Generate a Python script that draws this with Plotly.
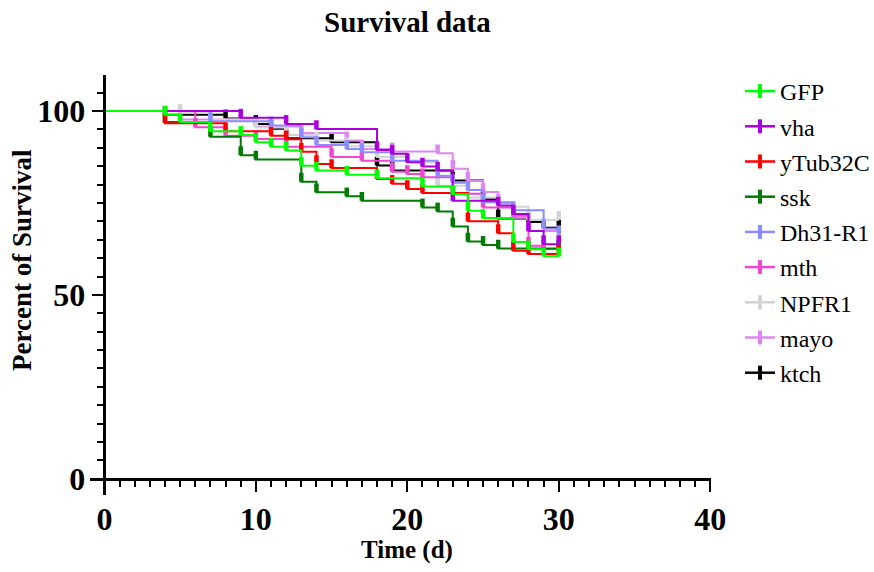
import plotly.graph_objects as go

# ---- data ----
names = ["GFP", "vha", "yTub32C", "ssk", "Dh31-R1", "mth", "NPFR1", "mayo", "ktch"]
colors = ["#00FF00", "#AA00DD", "#FF0000", "#007A00", "#8C8CFF", "#F046D2", "#D3D3D3", "#DD88F0", "#000000"]

GFP_t = [0, 4, 5, 7, 9, 10, 11, 12, 13, 14, 16, 18, 21, 23, 24, 25, 27, 28, 29, 30]
GFP_s = [100, 99, 97, 94.5, 93.5, 91.5, 90.3, 89.3, 85.1, 83.8, 82.7, 81.7, 79.5, 77.4, 72.9, 70.9, 64.4, 62.4, 60.5, 60.5]

vha_t = [0, 9, 12, 14, 18, 19, 20, 21, 22, 23, 26, 27, 28, 29, 30]
vha_s = [100, 98.2, 96.5, 95.1, 89.4, 88.4, 86.1, 84.9, 83.8, 75.6, 74.3, 72, 67.4, 63.8, 63.8]

yTub_t = [0, 4, 8, 11, 12, 13, 14, 15, 18, 19, 20, 21, 24, 26, 27, 28, 30]
yTub_s = [100, 96.7, 94.5, 93.3, 92.3, 88.9, 85.6, 84.5, 81.5, 80.2, 78.8, 77.7, 70, 66.8, 62, 61.1, 61.1]

ssk_t = [0, 4, 7, 9, 10, 13, 14, 16, 17, 21, 22, 23, 24, 25, 26, 30]
ssk_s = [100, 97, 93, 88, 86.8, 80.8, 77.9, 76.8, 75.6, 73.8, 72.7, 68.6, 64.5, 63.6, 62.6, 62.6]

Dh31_t = [0, 7, 11, 13, 14, 16, 17, 19, 22, 23, 24, 25, 27, 29, 30]
Dh31_s = [100, 97.2, 96.1, 92.9, 90.8, 89.7, 88.8, 86.5, 82.4, 80.5, 78.5, 75.2, 73, 68, 66.5]

mth_t = [0, 6, 8, 10, 12, 15, 17, 19, 20, 21, 23, 25, 27, 28, 29, 30]
mth_s = [100, 95.6, 93.3, 92.4, 90.3, 87.5, 86.5, 83.5, 82.9, 82, 77.5, 73.8, 71.5, 63.4, 62.5, 62.5]

NPFR1_t = [0, 5, 7, 10, 12, 14, 16, 18, 20, 22, 24, 26, 28, 30]
NPFR1_s = [100, 99.5, 97.7, 95.5, 93.5, 92, 90.4, 87.5, 86, 79.7, 76.5, 74, 70.4, 70.4]

mayo_t = [0, 5, 10, 13, 16, 17, 19, 22, 23, 24, 25, 26, 27, 28, 30]
mayo_s = [100, 97.7, 95.8, 94, 92, 89.7, 89, 88.5, 84.3, 81, 78, 75, 71, 67.4, 64]

ktch_t = [0, 4, 8, 10, 11, 12, 15, 18, 19, 23, 25, 26, 28, 29, 30]
ktch_s = [100, 99, 98, 96.5, 95.2, 92.6, 91.5, 85.2, 83.8, 81.1, 76, 70.8, 69.8, 68.3, 68.3]

series_t = [GFP_t, vha_t, yTub_t, ssk_t, Dh31_t, mth_t, NPFR1_t, mayo_t, ktch_t]
series_s = [GFP_s, vha_s, yTub_s, ssk_s, Dh31_s, mth_s, NPFR1_s, mayo_s, ktch_s]

x_ticks = [0, 10, 20, 30, 40]
y_ticks = [0, 50, 100]

FONT = "Liberation Serif, Times New Roman, serif"
TICK_H = 2.4  # height of censor tick in % units

fig = go.Figure()

# draw in reverse so GFP ends on top
for name, col, ts, ss in reversed(list(zip(names, colors, series_t, series_s))):
    fig.add_trace(go.Scatter(
        x=ts, y=ss, mode="lines", line=dict(color=col, width=2, shape="hv"),
        showlegend=False, hoverinfo="skip"))
    fig.add_trace(go.Scatter(
        x=ts[1:], y=ss[1:], mode="markers",
        marker=dict(size=1, color=col, opacity=0),
        error_y=dict(type="data", symmetric=False, array=[TICK_H] * (len(ts) - 1),
                     arrayminus=[0] * (len(ts) - 1), thickness=4.5, width=0, color=col),
        showlegend=False, hoverinfo="skip"))

# legend entries
for i, (name, col) in enumerate(zip(names, colors)):
    fig.add_trace(go.Scatter(
        x=[None], y=[None], mode="lines+markers", name=name, legendgroup=name,
        line=dict(color=col, width=2.5),
        marker=dict(symbol="line-ns", size=10, line=dict(color=col, width=4))))

XR = [-0.95, 40.05]
YR = [-4.4, 109.8]
PL, PR, PT, PB = 90, 711, 75, 495  # plot area in pixels
PW, PH = PR - PL, PB - PT

fig.update_layout(
    width=874, height=572,
    margin=dict(l=PL, r=874 - PR, t=PT, b=572 - PB, autoexpand=False),
    paper_bgcolor="white", plot_bgcolor="white",
    font=dict(family=FONT, color="black"),
    showlegend=True,
    legend=dict(x=(740 - PL) / PW, y=1 + (PT - 69) / PH, xanchor="left", yanchor="top",
                font=dict(family=FONT, size=24, color="black"),
                tracegroupgap=1, itemwidth=30, bgcolor="rgba(0,0,0,0)", maxheight=600),
    xaxis=dict(range=XR, anchor="free", position=(0 - YR[0]) / (YR[1] - YR[0]),
               showgrid=False, zeroline=False, showline=True, linecolor="black", linewidth=2.5,
               tickmode="array", tickvals=x_ticks, ticktext=[str(v) for v in x_ticks],
               ticks="outside", ticklen=11, tickwidth=2, tickcolor="black",
               minor=dict(dtick=1, tick0=0, ticks="outside", ticklen=6, tickwidth=1.5, tickcolor="black"),
               tickfont=dict(family=FONT, size=32, color="black", weight="bold"), automargin=False),
    yaxis=dict(range=YR, anchor="free", position=(0 - XR[0]) / (XR[1] - XR[0]),
               showgrid=False, zeroline=False, showline=True, linecolor="black", linewidth=2.5,
               tickmode="array", tickvals=y_ticks, ticktext=[str(v) for v in y_ticks],
               ticks="outside", ticklen=12, tickwidth=2, tickcolor="black",
               minor=dict(dtick=5, tick0=0, ticks="outside", ticklen=7, tickwidth=1.5, tickcolor="black"),
               tickfont=dict(family=FONT, size=32, color="black", weight="bold"), automargin=False),
    annotations=[
        dict(text="<b>Survival data</b>", x=20, xref="x", y=1 + (PT - 22) / PH, yref="paper",
             yanchor="middle", showarrow=False, font=dict(family=FONT, size=29, color="black")),
        dict(text="<b>Time (d)</b>", x=20, xref="x", y=(PB - 550) / PH, yref="paper", yanchor="middle",
             showarrow=False, font=dict(family=FONT, size=25, color="black")),
        dict(text="<b>Percent of Survival</b>", x=(22 - PL) / PW, xref="paper", y=(PB - 260) / PH,
             yref="paper", xanchor="center", yanchor="middle", textangle=-90,
             showarrow=False, font=dict(family=FONT, size=27, color="black")),
    ],
)

fig.write_html("out.html", config={"displayModeBar": False},
               post_script="document.body.style.margin='0px';")
